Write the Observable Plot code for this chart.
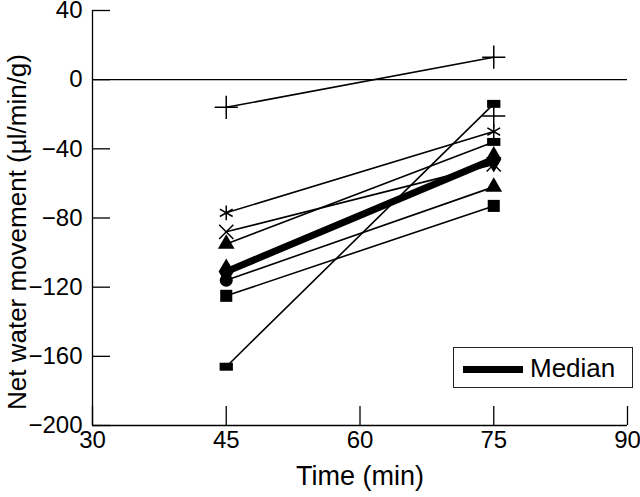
<!DOCTYPE html>
<html><head><meta charset="utf-8">
<script src="https://cdn.jsdelivr.net/npm/d3@7"></script>
<script src="https://cdn.jsdelivr.net/npm/@observablehq/plot@0.6"></script>
<style>
body{margin:0;background:#fff;}
#wrap{position:relative;width:640px;height:497px;font-family:"Liberation Sans",Arial,Helvetica,sans-serif;}
#legend{position:absolute;left:453px;top:347px;width:178px;height:39px;border:1.5px solid #222;background:#fff;}
#legend .sw{position:absolute;left:9px;top:18px;width:60px;height:7px;background:#000;}
#legend .tx{position:absolute;left:76px;top:5px;font-size:26px;line-height:30px;color:#000;}
</style></head>
<body><div id="wrap"><div id="legend"><div class="sw"></div><div class="tx">Median</div></div></div>
<script>
const times = [45, 75];
const subjects = ["A","B","C","D","E","F","G","H"];
const values45 = [-16, -166, -77, -88, -95, -116, -125, null];
const values75 = [13, -14, -30, -49, -36, -62, -73, -21];
const symbols45 = ["plus","rect","asterisk","times","triangle","circle","square",null];
const symbols75 = ["plus","rect","asterisk","times","rect","triangle","square","plus"];
const median = [-111, -46];
const xTicks = [30, 45, 60, 75, 90];
const yTicks = [40, 0, -40, -80, -120, -160, -200];
const xLabel = "Time (min)";
const yLabel = "Net water movement (µl/min/g)";

const rows = [];
subjects.forEach((s, i) => {
  rows.push({subject: s, time: times[0], value: values45[i], sym: symbols45[i]});
  rows.push({subject: s, time: times[1], value: values75[i], sym: symbols75[i]});
});
const valid = rows.filter(d => d.value != null);
const medRows = times.map((t, i) => ({time: t, value: median[i]}));

const rectSymbol = {draw(ctx, size) { const s = Math.sqrt(size); const w = s * 0.5, h = s * 0.3; ctx.rect(-w, -h, 2 * w, 2 * h); }};
const filled = {square: 6.8, triangle: 6.2, circle: 6.5, rect: 7.5};
const stroked = {plus: 7.5, asterisk: 7, times: 6.5};

const dotMarks = [];
for (const [name, r] of Object.entries(filled)) {
  dotMarks.push(Plot.dot(valid.filter(d => d.sym === name), {x: "time", y: "value", r, symbol: name === "rect" ? rectSymbol : name, fill: "black", stroke: "none"}));
}
for (const [name, r] of Object.entries(stroked)) {
  dotMarks.push(Plot.dot(valid.filter(d => d.sym === name), {x: "time", y: "value", r, symbol: name, fill: "none", stroke: "black", strokeWidth: 1.5}));
}

const chart = Plot.plot({
  width: 640, height: 497,
  marginLeft: 92, marginRight: 13, marginTop: 10, marginBottom: 72,
  style: {fontFamily: '"Liberation Sans", Arial, Helvetica, sans-serif', fontSize: "24px", color: "black", background: "white", overflow: "visible"},
  x: {domain: [30, 90]},
  y: {domain: [-200, 40]},
  marks: [
    Plot.ruleY([0], {stroke: "black", strokeWidth: 1.3}),
    Plot.ruleX([30], {stroke: "black", strokeWidth: 1.3}),
    Plot.ruleY([-200], {stroke: "black", strokeWidth: 1.3}),
    Plot.axisY({ticks: yTicks, tickSize: -18, tickPadding: 28, fontSize: 24, label: null, strokeWidth: 1.3}),
    Plot.axisX({ticks: xTicks, tickSize: -19, tickPadding: 24, fontSize: 24, label: null, strokeWidth: 1.3}),
    Plot.line(valid, {x: "time", y: "value", z: "subject", stroke: "black", strokeWidth: 1.6}),
    Plot.line(medRows, {x: "time", y: "value", stroke: "black", strokeWidth: 7}),
    Plot.dot(medRows, {x: "time", y: "value", r: 8, symbol: "diamond", fill: "black"}),
    ...dotMarks,
    Plot.text([yLabel], {frameAnchor: "left", textAnchor: "middle", lineAnchor: "middle", rotate: -90, dx: -75, dy: 14, fontSize: 26}),
    Plot.text([xLabel], {frameAnchor: "bottom", textAnchor: "middle", lineAnchor: "middle", dy: 51, fontSize: 27})
  ]
});
document.getElementById("wrap").prepend(chart);
</script>
</body></html>
